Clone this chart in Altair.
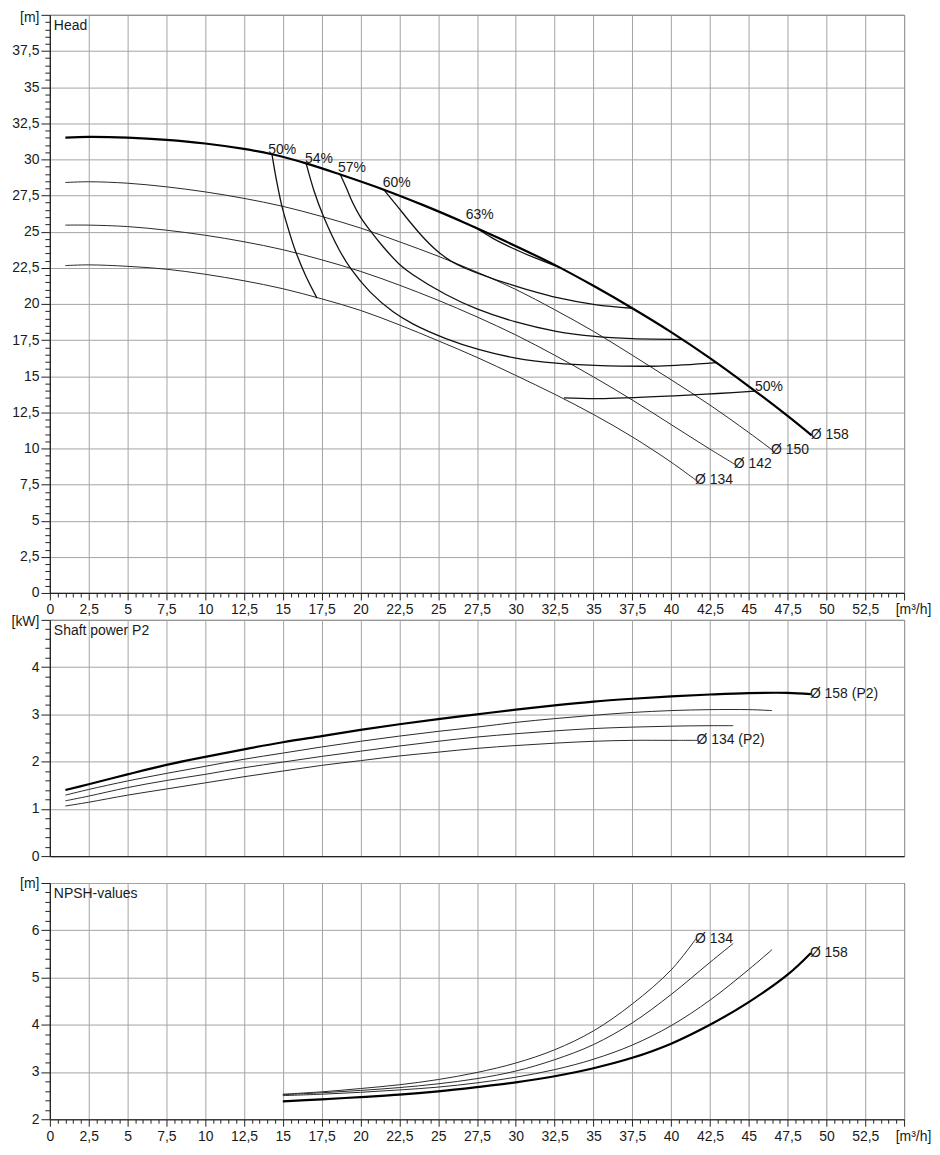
import altair as alt
import pandas as pd

FONT = "Liberation Sans"
GRID = "#a4a4a4"
INK = "#1a1a1a"

# ---------------- Head [m] vs Q [m3/h] ----------------
head_q_158 = [1.0, 2.5, 5, 7.5, 10, 12.5, 14.3, 16.5, 18.7, 21.5, 24, 26.7, 29, 32.5, 35, 37.5, 40, 42.5, 45, 47.5, 49.05]
head_h_158 = [31.5, 31.55, 31.5, 31.35, 31.1, 30.72, 30.35, 29.72, 28.95, 27.9, 26.85, 25.62, 24.5, 22.7, 21.25, 19.7, 18.05, 16.25, 14.3, 12.25, 10.9]

head_q_150 = [1.0, 2.5, 5, 7.5, 10, 12.5, 15, 17.5, 20, 22.5, 25, 27.5, 30, 32.5, 35, 37.5, 40, 42.5, 45, 46.5]
head_h_150 = [28.4, 28.45, 28.35, 28.1, 27.75, 27.3, 26.75, 26.05, 25.25, 24.3, 23.3, 22.2, 21.0, 19.6, 18.1, 16.45, 14.75, 13.0, 11.1, 9.9]

head_q_142 = [1.0, 2.5, 5, 7.5, 10, 12.5, 15, 17.5, 20, 22.5, 25, 27.5, 30, 32.5, 35, 37.5, 40, 42.5, 44.1]
head_h_142 = [25.45, 25.45, 25.35, 25.1, 24.75, 24.3, 23.75, 23.05, 22.25, 21.3, 20.25, 19.1, 17.85, 16.45, 14.95, 13.35, 11.65, 9.95, 8.9]

head_q_134 = [1.0, 2.5, 5, 7.5, 10, 12.5, 15, 17.5, 20, 22.5, 25, 27.5, 30, 32.5, 35, 37.5, 40, 41.6]
head_h_134 = [22.65, 22.7, 22.6, 22.4, 22.05, 21.6, 21.05, 20.35, 19.55, 18.55, 17.45, 16.3, 15.05, 13.75, 12.35, 10.8, 9.05, 7.8]

# efficiency iso-lines
eff50l_q = [14.3, 14.6, 14.93, 15.35, 15.8, 16.45, 17.2]
eff50l_h = [30.35, 28.5, 26.8, 25.2, 23.7, 22.0, 20.4]
eff54_q = [16.5, 17.0, 17.6, 18.6, 19.4, 20.6, 22.1, 23.4, 25.5, 27.6, 30.0, 32.6, 35.1, 39.2, 42.9]
eff54_h = [29.72, 27.85, 26.1, 23.8, 22.4, 20.85, 19.45, 18.6, 17.6, 16.85, 16.25, 15.9, 15.75, 15.7, 15.94]
eff57_q = [18.7, 19.1, 19.5, 20.0, 20.6, 21.5, 22.5, 23.4, 25.5, 27.5, 30.0, 32.6, 35.1, 37.5, 40.7]
eff57_h = [28.95, 28.0, 27.0, 26.0, 25.1, 23.9, 22.75, 22.0, 20.65, 19.65, 18.75, 18.1, 17.75, 17.6, 17.55]
eff60_q = [21.5, 22.3, 23.2, 24.0, 24.9, 25.8, 26.9, 28.5, 29.8, 31.2, 32.6, 35.1, 37.5]
eff60_h = [27.9, 26.85, 25.65, 24.65, 23.7, 22.98, 22.4, 21.75, 21.3, 20.85, 20.45, 19.95, 19.7]
eff63_q = [27.3, 28.5, 29.8, 31.2, 32.8]
eff63_h = [25.35, 24.55, 23.85, 23.2, 22.53]
eff50r_q = [33.1, 35.36, 40.5, 43.0, 45.4]
eff50r_h = [13.5, 13.45, 13.66, 13.8, 13.97]

eff_label_text = ["50%", "54%", "57%", "60%", "63%", "50%"]
eff_label_q = [14.06, 16.43, 18.55, 21.44, 26.77, 45.4]
eff_label_h = [30.34, 29.72, 29.1, 28.07, 25.86, 14.0]

# ---------------- Shaft power P2 [kW] ----------------
p2_q_158 = [1.0, 2.5, 5, 7.5, 10, 12.5, 15, 17.5, 20, 22.5, 25, 27.5, 30, 32.5, 35, 37.5, 40, 42.5, 45, 47.5, 49.0]
p2_p_158 = [1.40, 1.52, 1.73, 1.93, 2.10, 2.26, 2.41, 2.54, 2.67, 2.79, 2.90, 3.00, 3.10, 3.19, 3.27, 3.33, 3.38, 3.42, 3.45, 3.455, 3.43]
p2_q_150 = [1.0, 2.5, 5, 7.5, 10, 12.5, 15, 17.5, 20, 22.5, 25, 27.5, 30, 32.5, 35, 37.5, 40, 42.5, 45, 46.5]
p2_p_150 = [1.29, 1.41, 1.59, 1.75, 1.90, 2.05, 2.18, 2.31, 2.43, 2.54, 2.64, 2.73, 2.83, 2.91, 2.98, 3.04, 3.08, 3.10, 3.10, 3.08]
p2_q_142 = [1.0, 2.5, 5, 7.5, 10, 12.5, 15, 17.5, 20, 22.5, 25, 27.5, 30, 32.5, 35, 37.5, 40, 42.5, 44.0]
p2_p_142 = [1.17, 1.27, 1.45, 1.60, 1.73, 1.87, 1.99, 2.11, 2.22, 2.33, 2.43, 2.52, 2.59, 2.65, 2.70, 2.73, 2.75, 2.76, 2.76]
p2_q_134 = [1.0, 2.5, 5, 7.5, 10, 12.5, 15, 17.5, 20, 22.5, 25, 27.5, 30, 32.5, 35, 37.5, 40, 41.7]
p2_p_134 = [1.06, 1.14, 1.29, 1.42, 1.55, 1.68, 1.80, 1.92, 2.02, 2.12, 2.20, 2.28, 2.34, 2.39, 2.43, 2.45, 2.45, 2.45]

# ---------------- NPSH [m] ----------------
np_q_158 = [15, 17.5, 20, 22.5, 25, 27.5, 30, 32.5, 35, 37.5, 40, 42.5, 45, 47.5, 49.0]
np_n_158 = [2.38, 2.42, 2.47, 2.52, 2.59, 2.68, 2.78, 2.91, 3.08, 3.30, 3.60, 4.00, 4.48, 5.06, 5.52]
np_q_150 = [15, 17.5, 20, 22.5, 25, 27.5, 30, 32.5, 35, 37.5, 40, 42.5, 45, 46.5]
np_n_150 = [2.50, 2.53, 2.57, 2.62, 2.68, 2.77, 2.89, 3.05, 3.27, 3.57, 3.98, 4.52, 5.17, 5.59]
np_q_142 = [15, 17.5, 20, 22.5, 25, 27.5, 30, 32.5, 35, 37.5, 40, 42.5, 44.0]
np_n_142 = [2.52, 2.56, 2.61, 2.67, 2.75, 2.86, 3.02, 3.26, 3.58, 4.04, 4.64, 5.32, 5.72]
np_q_134 = [15, 17.5, 20, 22.5, 25, 27.5, 30, 32.5, 35, 37.5, 40, 41.6]
np_n_134 = [2.53, 2.58, 2.65, 2.73, 2.84, 2.99, 3.19, 3.47, 3.87, 4.44, 5.16, 5.82]

x_ticks = [i * 0.5 for i in range(111)]
head_ticks = [i * 0.5 for i in range(81)]
p2_ticks = [round(i * 0.2, 1) for i in range(26)]
np_ticks = [round(2 + i * 0.2, 1) for i in range(26)]

CURVE = "catmull-rom"
FS = 14


def long_df(pairs):
    rows = []
    for name, qs, vs in pairs:
        for i, (q, v) in enumerate(zip(qs, vs)):
            rows.append({"s": name, "i": i, "q": q, "v": v})
    return pd.DataFrame(rows)


def end_labels(pairs):
    return pd.DataFrame([{"t": t, "q": qs[-1], "v": vs[-1]} for t, qs, vs in pairs])


def cond(test, a, b):
    return {"condition": {"test": test, "value": a}, "value": b}


def x_enc(labels=True):
    if labels:
        ax = alt.Axis(
            values=x_ticks, title=None, grid=True, gridColor=GRID, gridWidth=1,
            gridOpacity=cond("datum.value % 2.5 == 0", 1, 0),
            tickSize=cond("datum.value % 2.5 == 0", 7, 4),
            labelOffset=cond("datum.value == 55", 9, 0),
            labelPadding=3, labelFlush=False, labelOverlap=False,
            labelExpr="datum.value == 55 ? '[m³/h]' : (datum.value % 2.5 == 0 ? replace(toString(datum.value), '.', ',') : '')",
        )
    else:
        ax = alt.Axis(
            values=x_ticks, title=None, grid=True, gridColor=GRID, gridWidth=1,
            gridOpacity=cond("datum.value % 2.5 == 0", 1, 0),
            ticks=False, labels=False,
        )
    return alt.X("q:Q", scale=alt.Scale(domain=[0, 55], nice=False, zero=False), axis=ax)


def y_enc(domain, ticks, major, top_label, top_off):
    top = domain[1]
    ax = alt.Axis(
        values=ticks, title=None, grid=True, gridColor=GRID, gridWidth=1,
        gridOpacity=cond(f"datum.value % {major} == 0", 1, 0),
        tickSize=cond(f"datum.value % {major} == 0", 9, 5),
        labelOffset=cond(f"datum.value == {top}", top_off, 0),
        labelPadding=2, labelOverlap=False, labelFlush=False,
        labelExpr=f"datum.value == {top} ? '{top_label}' : (datum.value % {major} == 0 ? replace(toString(datum.value), '.', ',') : '')",
    )
    return alt.Y("v:Q", scale=alt.Scale(domain=domain, nice=False, zero=False), axis=ax)


def panel(thin_pairs, thick_pair, labels_df, title, domain, ticks, major, top_label, top_off,
          height, xlabels, extra_lines=None, extra_text=None):
    X = x_enc(xlabels)
    Y = y_enc(domain, ticks, major, top_label, top_off)
    thin = alt.Chart(long_df(thin_pairs)).mark_line(
        color="#2a2a2a", strokeWidth=1, interpolate=CURVE
    ).encode(x=X, y=Y, detail="s:N", order="i:Q")
    thick = alt.Chart(long_df([thick_pair])).mark_line(
        color="#000000", strokeWidth=2.2, interpolate=CURVE
    ).encode(x=X, y=Y, order="i:Q")
    layers = [thin]
    if extra_lines is not None:
        layers.append(
            alt.Chart(long_df(extra_lines)).mark_line(
                color="#111111", strokeWidth=1.3, interpolate=CURVE
            ).encode(x=X, y=Y, detail="s:N", order="i:Q")
        )
    layers.append(thick)
    layers.append(
        alt.Chart(labels_df).mark_text(
            align="left", baseline="middle", dx=-1, fontSize=FS, font=FONT, color=INK
        ).encode(x=X, y=Y, text="t:N")
    )
    if extra_text is not None:
        layers.append(
            alt.Chart(extra_text).mark_text(
                align="left", baseline="alphabetic", fontSize=FS, font=FONT, color=INK
            ).encode(x=X, y=Y, text="t:N")
        )
    layers.append(
        alt.Chart(pd.DataFrame({"t": [title]})).mark_text(
            align="left", baseline="top", fontSize=FS, font=FONT, color=INK
        ).encode(x=alt.value(4), y=alt.value(4), text="t:N")
    )
    return alt.layer(*layers).properties(width=857, height=height)


head_thin = [("150", head_q_150, head_h_150), ("142", head_q_142, head_h_142), ("134", head_q_134, head_h_134)]
head_thick = ("158", head_q_158, head_h_158)
head_labels = end_labels([("Ø 158", head_q_158, head_h_158), ("Ø 150", head_q_150, head_h_150),
                          ("Ø 142", head_q_142, head_h_142), ("Ø 134", head_q_134, head_h_134)])
eff_lines = [("e50l", eff50l_q, eff50l_h), ("e54", eff54_q, eff54_h), ("e57", eff57_q, eff57_h),
             ("e60", eff60_q, eff60_h), ("e63", eff63_q, eff63_h), ("e50r", eff50r_q, eff50r_h)]
eff_text = pd.DataFrame({"t": eff_label_text, "q": eff_label_q, "v": eff_label_h})

head = panel(head_thin, head_thick, head_labels, "Head", [0, 40], head_ticks, 2.5, "[m]", 3,
             580, True, extra_lines=eff_lines, extra_text=eff_text)

p2_thin = [("150", p2_q_150, p2_p_150), ("142", p2_q_142, p2_p_142), ("134", p2_q_134, p2_p_134)]
p2_thick = ("158", p2_q_158, p2_p_158)
p2_labels = end_labels([("Ø 158 (P2)", p2_q_158, p2_p_158), ("Ø 134 (P2)", p2_q_134, p2_p_134)])
power = panel(p2_thin, p2_thick, p2_labels, "Shaft power P2", [0, 5], p2_ticks, 1, "[kW]", 2,
              237, False)

np_thin = [("150", np_q_150, np_n_150), ("142", np_q_142, np_n_142), ("134", np_q_134, np_n_134)]
np_thick = ("158", np_q_158, np_n_158)
np_labels = end_labels([("Ø 134", np_q_134, np_n_134), ("Ø 158", np_q_158, np_n_158)])
npsh = panel(np_thin, np_thick, np_labels, "NPSH-values", [2, 7], np_ticks, 1, "[m]", 1,
             237, True)

chart = alt.vconcat(head, power, npsh, spacing=27, bounds="flush").properties(
    padding={"left": 2, "top": 0, "right": 0, "bottom": 4}
).configure_view(
    stroke="#222222", strokeWidth=1
).configure_axis(
    domainColor="#222222", domainWidth=1.2, tickColor="#222222", tickWidth=1,
    labelFont=FONT, labelFontSize=FS, labelColor=INK
).configure_text(font=FONT)

chart.save("out.html", embed_options={"renderer": "svg", "actions": False})
